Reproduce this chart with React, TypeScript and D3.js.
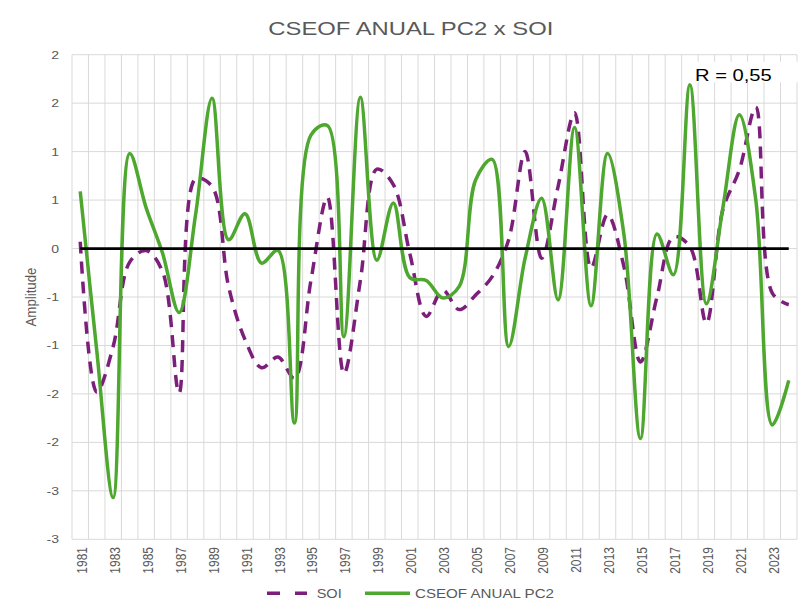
import React from "react";
import * as d3 from "d3";

const years: number[] = [
  1981, 1982, 1983, 1984, 1985, 1986, 1987, 1988, 1989, 1990, 1991, 1992, 1993, 1994, 1995,
  1996, 1997, 1998, 1999, 2000, 2001, 2002, 2003, 2004, 2005, 2006, 2007, 2008, 2009, 2010,
  2011, 2012, 2013, 2014, 2015, 2016, 2017, 2018, 2019, 2020, 2021, 2022, 2023, 2024,
];

const soi: number[] = [
  0.07, -1.48, -1.01, -0.14, -0.02, -0.24, -1.49, 0.72, 0.64, -0.39, -0.94, -1.23, -1.12, -1.34, -0.33,
  0.53, -1.29, -0.33, 0.82, 0.66, -0.05, -0.7, -0.43, -0.63, -0.48, -0.29, 0.09, 1.0, -0.1, 0.64,
  1.4, -0.2, 0.35, -0.19, -1.17, -0.5, 0.12, 0.02, -0.77, 0.4, 0.81, 1.46, -0.46, -0.58,
];

const cseof: number[] = [
  0.59, -1.05, -2.57, 0.98, 0.42, -0.05, -0.66, 0.35, 1.55, 0.09, 0.36, -0.15, -0.02, -1.8, 1.17,
  1.27, -0.91, 1.56, -0.12, 0.47, -0.3, -0.33, -0.51, -0.39, 0.71, 0.92, -1.01, -0.1, 0.52, -0.53,
  1.25, -0.59, 0.98, 0.14, -1.96, 0.15, -0.27, 1.69, -0.57, 0.42, 1.38, 0.5, -1.82, -1.36,
];

const yTicks: number[] = [2, 1.5, 1, 0.5, 0, -0.5, -1, -1.5, -2, -2.5, -3];
const yTickLabels: string[] = ["2", "2", "1", "1", "0", "-1", "-1", "-2", "-2", "-3", "-3"];
const xTickYears: number[] = [
  1981, 1983, 1985, 1987, 1989, 1991, 1993, 1995, 1997, 1999, 2001,
  2003, 2005, 2007, 2009, 2011, 2013, 2015, 2017, 2019, 2021, 2023,
];

const title = "CSEOF ANUAL PC2 x SOI";
const seriesNames = ["SOI", "CSEOF ANUAL PC2"];
const rLabel = "R = 0,55";

const FONT = "'Liberation Sans', Arial, sans-serif";
const GREY = "#595959";
const GREEN = "#4EA72E";
const PURPLE = "#7B1F7B";
const GRID = "#d9d9d9";

export default function App() {
  const W = 798;
  const H = 610;
  const left = 72;
  const right = 797;
  const top = 54.7;
  const bottom = 539.3;

  const xb = d3.scaleBand<number>().domain(years).range([left, right]).padding(0);
  const bw = xb.bandwidth();
  const xc = (yr: number) => (xb(yr) as number) + bw / 2;
  const y = d3.scaleLinear().domain([-3, 2]).range([bottom, top]);

  const line = d3
    .line<number>()
    .x((_, i) => xc(years[i]))
    .y((d) => y(d))
    .curve(d3.curveCatmullRom.alpha(0.5));

  const boundaries = years.map((yr) => xb(yr) as number).concat([right]);

  return (
    <svg
      width={W}
      height={H}
      style={{ position: "absolute", left: 0, top: 0, background: "#fff" }}
      fontFamily={FONT}
    >
      <rect x={0} y={0} width={W} height={H} fill="#fff" />
      {yTicks.map((t, i) => (
        <line key={"h" + i} x1={left} x2={right} y1={y(t)} y2={y(t)} stroke={GRID} strokeWidth={1} />
      ))}
      {boundaries.map((bx, i) => (
        <line key={"v" + i} x1={bx} x2={bx} y1={top} y2={bottom} stroke={GRID} strokeWidth={1} />
      ))}
      {yTicks.map((t, i) => (
        <text
          key={"yt" + i}
          transform={`translate(59,${y(t)}) scale(1.22,1)`}
          textAnchor="end"
          dy="0.35em"
          fontSize={11.5}
          fill={GREY}
        >
          {yTickLabels[i]}
        </text>
      ))}
      {xTickYears.map((yr) => (
        <text
          key={"xt" + yr}
          transform={`translate(${xc(yr) + 1.5},547) scale(1.2,1) rotate(-90)`}
          textAnchor="end"
          dy="0.35em"
          fontSize={12}
          fill={GREY}
        >
          {yr}
        </text>
      ))}
      <text
        transform={`translate(36,${(top + bottom) / 2}) scale(1.15,1) rotate(-90)`}
        textAnchor="middle"
        fontSize={12}
        fill={GREY}
        textLength={59}
        lengthAdjust="spacingAndGlyphs"
      >
        Amplitude
      </text>
      <path d={line(soi) || ""} fill="none" stroke={PURPLE} strokeWidth={3.5} strokeDasharray="12,8" />
      <path d={line(cseof) || ""} fill="none" stroke={GREEN} strokeWidth={3.5} strokeLinejoin="round" />
      <line x1={xc(years[0])} x2={xc(years[years.length - 1])} y1={y(0)} y2={y(0)} stroke="#000" strokeWidth={2.8} />
      <text x={268.3} y={35} fontSize={18.6} fill={GREY} textLength={285} lengthAdjust="spacingAndGlyphs">
        {title}
      </text>
      <rect x={682.7} y={61.7} width={120} height={20.6} fill="#fff" />
      <text x={695} y={81} fontSize={16} fill="#000" textLength={76.7} lengthAdjust="spacingAndGlyphs">
        {rLabel}
      </text>
      <line x1={267} x2={307} y1={593.3} y2={593.3} stroke={PURPLE} strokeWidth={3.5} strokeDasharray="13,15" />
      <text x={316.7} y={597.7} fontSize={12} fill={GREY} textLength={25} lengthAdjust="spacingAndGlyphs">
        {seriesNames[0]}
      </text>
      <line x1={365} x2={410} y1={593.3} y2={593.3} stroke={GREEN} strokeWidth={3.5} />
      <text x={415} y={597.7} fontSize={12} fill={GREY} textLength={139} lengthAdjust="spacingAndGlyphs">
        {seriesNames[1]}
      </text>
    </svg>
  );
}
